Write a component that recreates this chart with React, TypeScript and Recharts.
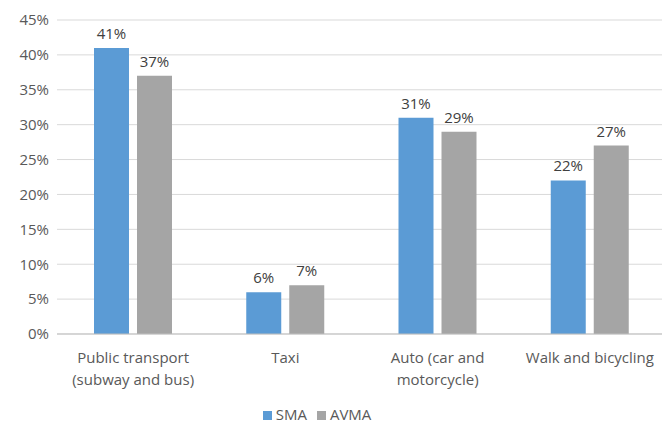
import React from 'react';
import { BarChart, Bar, XAxis, YAxis, CartesianGrid, Legend, LabelList } from 'recharts';

const categories = ['Public transport\n(subway and bus)', 'Taxi', 'Auto (car and\nmotorcycle)', 'Walk and bicycling'];
const smaValues = [41, 6, 31, 22];
const avmaValues = [37, 7, 29, 27];
const yTicks = [0, 5, 10, 15, 20, 25, 30, 35, 40, 45];

const data = categories.map((name, i) => ({ name, SMA: smaValues[i], AVMA: avmaValues[i] }));

const FONT = 'Open Sans, sans-serif';
const TEXT = '#595959';

function CategoryTick(props: any) {
  const { x, y, payload } = props;
  const lines = String(payload.value).split('\n');
  return (
    <g transform={`translate(${x},${y})`}>
      {lines.map((line, i) => (
        <text
          key={i}
          x={0}
          y={i * 22}
          dy={21}
          textAnchor="middle"
          fill={TEXT}
          fontSize={15}
          fontFamily={FONT}
        >
          {line}
        </text>
      ))}
    </g>
  );
}

export default function App() {
  return (
    <div style={{ position: 'absolute', left: 0, top: 0, width: 662, height: 424, overflow: 'hidden', background: '#fff' }}>
      <BarChart
        width={666}
        height={424}
        data={data}
        margin={{ top: 20, right: 0, left: 0, bottom: 0 }}
        barSize={35}
        barGap={8}
      >
        <CartesianGrid vertical={false} stroke="#D9D9D9" />
        <XAxis
          dataKey="name"
          axisLine={{ stroke: '#BFBFBF' }}
          tickLine={false}
          tick={<CategoryTick />}
          interval={0}
          height={64}
        />
        <YAxis
          domain={[0, 45]}
          ticks={yTicks}
          tickFormatter={(v: number) => `${v}%`}
          axisLine={false}
          tickLine={false}
          width={57}
          tick={{ fill: TEXT, fontSize: 15, fontFamily: FONT }}
        />
        <Legend
          verticalAlign="bottom"
          iconType="square"
          iconSize={9}
          height={26}
          itemSorter={(item: any) => (item.dataKey === 'SMA' ? 0 : 1)}
          wrapperStyle={{ fontFamily: FONT, fontSize: 15, color: TEXT, bottom: -6, left: -11 }}
          formatter={(value: string) => <span style={{ color: TEXT }}>{value}</span>}
        />
        <Bar dataKey="SMA" fill="#5B9BD5" isAnimationActive={false}>
          <LabelList dataKey="SMA" position="top" formatter={(v: any) => `${v}%`} fill="#404040" fontSize={15} fontFamily={FONT} offset={9} />
        </Bar>
        <Bar dataKey="AVMA" fill="#A5A5A5" isAnimationActive={false}>
          <LabelList dataKey="AVMA" position="top" formatter={(v: any) => `${v}%`} fill="#404040" fontSize={15} fontFamily={FONT} offset={9} />
        </Bar>
      </BarChart>
    </div>
  );
}
